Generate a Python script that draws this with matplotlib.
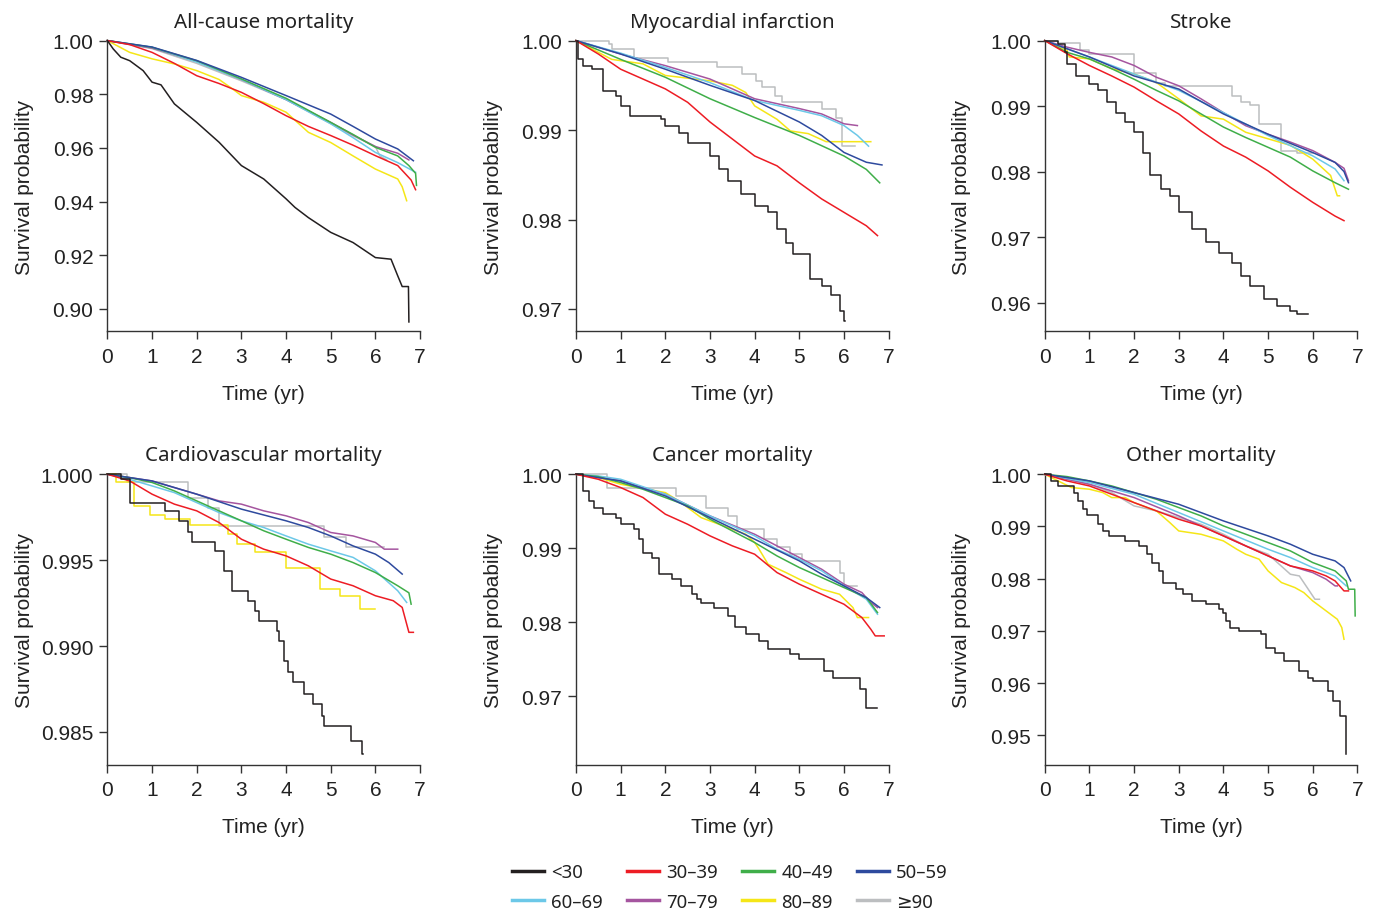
import matplotlib
matplotlib.use("Agg")
import matplotlib.pyplot as plt
from matplotlib.lines import Line2D
from matplotlib.ticker import FormatStrFormatter

plt.rcParams['font.family'] = ['Liberation Sans', 'DejaVu Sans']

# age groups and their colours
groups = ["<30", "30–39", "40–49", "50–59", "60–69", "70–79", "80–89", "≥90"]
colors = {"<30": "#231f20", "30–39": "#ed1c24", "40–49": "#3fae49", "50–59": "#2e4a9e",
          "60–69": "#6cc8e8", "70–79": "#a5559f", "80–89": "#f5e617", "≥90": "#bcbec0"}

# survival curves: label -> (time in years, survival)
allcause = {
    "<30": ([0, 0.13, 0.3, 0.5, 0.8, 1, 1.2, 1.5, 2, 2.5, 3, 3.5, 4, 4.2, 4.5, 5, 5.5, 6, 6.35, 6.5, 6.6, 6.74, 6.75],
            [1, 0.9969, 0.9938, 0.9925, 0.9888, 0.9845, 0.9835, 0.9764, 0.9695, 0.9621, 0.9534, 0.9484, 0.941, 0.9378,
             0.934, 0.9285, 0.9247, 0.9191, 0.9185, 0.9123, 0.9083, 0.9083, 0.8951]),
    "30–39": ([0, 0.5, 1, 1.5, 2, 2.5, 3, 3.5, 4, 4.5, 5, 5.5, 6, 6.5, 6.8, 6.9],
              [1, 0.9985, 0.9956, 0.9915, 0.9869, 0.984, 0.9807, 0.9765, 0.972, 0.968, 0.9646, 0.961, 0.9571, 0.9534,
               0.948, 0.9444]),
    "40–49": ([0, 1, 2, 3, 4, 5, 5.5, 6, 6.5, 6.75, 6.9, 6.92],
              [1, 0.9975, 0.9925, 0.9857, 0.9785, 0.9695, 0.965, 0.9602, 0.957, 0.9534, 0.9505, 0.946]),
    "50–59": ([0, 1, 2, 3, 4, 5, 5.5, 6, 6.5, 6.85],
              [1, 0.9976, 0.9926, 0.9863, 0.9795, 0.9726, 0.968, 0.9633, 0.9596, 0.9552]),
    "60–69": ([0, 1, 2, 3, 4, 5, 5.5, 6, 6.5, 6.9],
              [1, 0.9975, 0.992, 0.9855, 0.978, 0.969, 0.9638, 0.9583, 0.9545, 0.9509]),
    "70–79": ([0, 1, 2, 3, 4, 5, 5.5, 6, 6.5, 6.75],
              [1, 0.9972, 0.9922, 0.9855, 0.978, 0.9695, 0.9648, 0.9605, 0.958, 0.9555]),
    "80–89": ([0, 0.5, 1, 1.5, 2, 2.5, 2.8, 3, 3.5, 4, 4.5, 5, 5.5, 6, 6.5, 6.6, 6.7],
              [1, 0.9956, 0.9932, 0.9913, 0.9888, 0.9855, 0.982, 0.9795, 0.977, 0.9733, 0.9658, 0.962, 0.957, 0.9521,
               0.9484, 0.9455, 0.9403]),
    "≥90": ([0, 1, 2, 3, 4, 5, 5.5, 6, 6.1, 6.25],
            [1, 0.997, 0.9915, 0.985, 0.978, 0.969, 0.9645, 0.9605, 0.957, 0.9555]),
}

infarction = {
    "<30": ([0, 0.05, 0.15, 0.35, 0.6, 0.9, 1.0, 1.2, 1.9, 2.0, 2.3, 2.5, 3.0, 3.2, 3.4, 3.7, 4.0, 4.3, 4.5, 4.7,
             4.85, 5.25, 5.5, 5.7, 5.9, 6.0, 6.02],
            [1, 0.9979, 0.9972, 0.9968, 0.9944, 0.9938, 0.9927, 0.9916, 0.9912, 0.9905, 0.9897, 0.9886, 0.9871,
             0.9856, 0.9843, 0.9828, 0.9815, 0.9808, 0.9789, 0.9774, 0.9761, 0.9733, 0.9726, 0.9716, 0.9698, 0.9687,
             0.9687]),
    "30–39": ([0, 0.5, 1, 1.5, 2, 2.5, 3, 3.5, 4, 4.5, 5, 5.5, 6, 6.5, 6.75],
              [1, 0.9985, 0.9968, 0.9957, 0.9946, 0.9931, 0.9909, 0.989, 0.9871, 0.986, 0.9841, 0.9823, 0.9808,
               0.9793, 0.9782]),
    "40–49": ([0, 1, 2, 3, 4, 5, 6, 6.5, 6.8],
              [1, 0.9979, 0.9959, 0.9935, 0.9914, 0.9894, 0.9871, 0.9856, 0.9841]),
    "50–59": ([0, 1, 2, 3, 4, 5, 5.5, 6, 6.5, 6.85],
              [1, 0.9985, 0.9968, 0.995, 0.9933, 0.9909, 0.9894, 0.9875, 0.9864, 0.9861]),
    "60–69": ([0, 1, 2, 3, 4, 5, 5.5, 6, 6.3, 6.55],
              [1, 0.9986, 0.997, 0.9953, 0.9933, 0.9922, 0.9916, 0.9905, 0.9894, 0.9882]),
    "70–79": ([0, 1, 2, 3, 4, 5, 5.5, 6, 6.3],
              [1, 0.9985, 0.9972, 0.9957, 0.9935, 0.9924, 0.9918, 0.9907, 0.9905]),
    "80–89": ([0, 0.8, 1.5, 2, 3, 3.5, 3.8, 4, 4.5, 4.8, 5.2, 5.6, 6.6],
              [1, 0.9979, 0.9974, 0.9961, 0.9955, 0.995, 0.9942, 0.9927, 0.9912, 0.9899, 0.9896, 0.9887, 0.9887]),
    "≥90": ([0, 0.75, 0.8, 1.3, 2.05, 3.15, 3.72, 4.02, 4.17, 4.46, 4.61, 5.51, 5.81, 5.96, 6.25],
            [1, 0.9996, 0.9991, 0.9981, 0.9976, 0.997, 0.9963, 0.9955, 0.9948, 0.9938, 0.9931, 0.9924, 0.9914,
             0.9882, 0.9882]),
}

stroke = {
    "<30": ([0, 0.3, 0.45, 0.5, 0.7, 1.0, 1.2, 1.4, 1.6, 1.8, 2.0, 2.2, 2.35, 2.6, 2.8, 3.0, 3.3, 3.6, 3.9, 4.2,
             4.4, 4.6, 4.9, 5.2, 5.5, 5.65, 5.9],
            [1, 0.9995, 0.9982, 0.9964, 0.9946, 0.9934, 0.9924, 0.9906, 0.989, 0.9875, 0.986, 0.9829, 0.9794,
             0.9773, 0.9763, 0.9738, 0.9712, 0.9692, 0.9676, 0.9661, 0.9641, 0.9625, 0.9605, 0.9595, 0.9587, 0.9582,
             0.9582]),
    "30–39": ([0, 0.5, 1, 1.5, 2, 2.5, 3, 3.5, 4, 4.5, 5, 5.5, 6, 6.5, 6.7],
              [1, 0.998, 0.9962, 0.9946, 0.9929, 0.9908, 0.9888, 0.9862, 0.9839, 0.9822, 0.9801, 0.9776, 0.9753,
               0.9732, 0.9725]),
    "40–49": ([0, 0.5, 1, 1.5, 2, 2.5, 3, 3.5, 4, 4.5, 5, 5.5, 6, 6.5, 6.8],
              [1, 0.9982, 0.9972, 0.9957, 0.9941, 0.9924, 0.9908, 0.9888, 0.9868, 0.9852, 0.9837, 0.9822, 0.9801,
               0.9783, 0.9773]),
    "50–59": ([0, 1, 2, 3, 4, 5, 6, 6.5, 6.7, 6.8],
              [1, 0.9975, 0.9946, 0.9926, 0.9888, 0.9857, 0.9829, 0.9814, 0.98, 0.9783]),
    "60–69": ([0, 1, 2, 3, 4, 5, 6, 6.5, 6.7],
              [1, 0.9975, 0.9949, 0.9924, 0.989, 0.9855, 0.9824, 0.9804, 0.9786]),
    "70–79": ([0, 0.5, 1, 1.5, 2, 2.5, 3, 3.5, 4, 4.5, 5, 5.5, 6, 6.5, 6.7, 6.8],
              [1, 0.999, 0.9982, 0.9975, 0.9962, 0.9944, 0.9931, 0.9911, 0.989, 0.987, 0.9857, 0.9845, 0.9832,
               0.9814, 0.9805, 0.9786]),
    "80–89": ([0, 0.5, 0.55, 1, 1.5, 2, 2.5, 3, 3.5, 4, 4.5, 5, 5.5, 6, 6.4, 6.55, 6.6],
              [1, 0.9985, 0.9975, 0.9972, 0.9957, 0.9949, 0.9936, 0.9911, 0.9885, 0.988, 0.986, 0.985, 0.984,
               0.9819, 0.9794, 0.9763, 0.9763]),
    "≥90": ([0, 0.3, 0.8, 1.0, 2.0, 2.5, 2.7, 4.2, 4.4, 4.6, 4.8, 5.3, 5.65, 6.0],
            [1, 0.9996, 0.9985, 0.998, 0.995, 0.9935, 0.9931, 0.9916, 0.9906, 0.9901, 0.9873, 0.9832, 0.9829,
             0.9829]),
}

cardio = {
    "<30": ([0, 0.3, 0.5, 1.3, 1.6, 1.8, 1.9, 2.4, 2.6, 2.8, 3.15, 3.3, 3.4, 3.8, 3.85, 3.95, 4.05, 4.15, 4.4, 4.6,
             4.8, 4.85, 5.45, 5.7, 5.72],
            [1, 0.9997, 0.99835, 0.99787, 0.99729, 0.99661, 0.99607, 0.99554, 0.99438, 0.99322, 0.99264, 0.99205,
             0.99147, 0.99089, 0.99031, 0.98915, 0.98847, 0.98789, 0.98721, 0.98663, 0.98595, 0.98533, 0.9845,
             0.98372, 0.98372]),
    "30–39": ([0, 0.5, 1, 1.5, 2, 2.5, 3, 3.5, 4, 4.5, 5, 5.5, 6, 6.4, 6.6, 6.75, 6.85],
              [1, 0.99961, 0.99884, 0.99826, 0.99787, 0.99719, 0.99622, 0.99564, 0.99525, 0.99467, 0.9939, 0.99351,
               0.99293, 0.99264, 0.99225, 0.9908, 0.9908]),
    "40–49": ([0, 0.5, 1, 1.5, 2, 2.5, 3, 3.5, 4, 4.5, 5, 5.5, 6, 6.5, 6.75, 6.8],
              [1, 0.9998, 0.99952, 0.99903, 0.99845, 0.99787, 0.99729, 0.99671, 0.99622, 0.99574, 0.99535, 0.99486,
               0.99428, 0.99351, 0.9931, 0.99244]),
    "50–59": ([0, 1, 2, 3, 4, 4.5, 5, 5.5, 6, 6.3, 6.6],
              [1, 0.99961, 0.99884, 0.99797, 0.99729, 0.9969, 0.99641, 0.99583, 0.99535, 0.99486, 0.99419]),
    "60–69": ([0, 0.5, 1, 1.5, 2, 2.5, 3, 3.5, 4, 4.5, 5, 5.5, 6, 6.5, 6.7],
              [1, 0.9997, 0.99932, 0.99893, 0.99835, 0.99777, 0.99729, 0.9969, 0.99641, 0.99593, 0.99554, 0.99516,
               0.99438, 0.99322, 0.99254]),
    "70–79": ([0, 1, 2, 2.5, 3, 3.5, 4, 4.5, 5, 5.5, 6, 6.2, 6.5],
              [1, 0.99961, 0.99884, 0.99845, 0.99826, 0.99787, 0.99758, 0.99719, 0.99661, 0.99641, 0.99603, 0.99564,
               0.99564]),
    "80–89": ([0, 0.2, 0.6, 0.95, 1.3, 1.85, 2.7, 2.9, 3.3, 4.0, 4.75, 5.2, 5.65, 6.0],
              [1, 0.99952, 0.99816, 0.99762, 0.99738, 0.99703, 0.99651, 0.99593, 0.99545, 0.99457, 0.99331, 0.99293,
               0.99215, 0.99215]),
    "≥90": ([0, 0.45, 1.8, 2.25, 2.5, 4.85, 5.35, 6.2],
            [1, 0.99952, 0.99864, 0.99806, 0.99696, 0.99632, 0.99574, 0.99574]),
}

cancer = {
    "<30": ([0, 0.15, 0.3, 0.4, 0.6, 0.9, 1.0, 1.3, 1.4, 1.5, 1.7, 1.85, 2.15, 2.35, 2.6, 2.7, 2.8, 3.1, 3.4, 3.55,
             3.8, 4.1, 4.3, 4.8, 5.0, 5.55, 5.75, 6.35, 6.5, 6.75],
            [1, 0.99775, 0.9964, 0.9955, 0.9946, 0.99414, 0.99324, 0.99257, 0.99122, 0.98941, 0.98874, 0.98649,
             0.98581, 0.98491, 0.98378, 0.98311, 0.98266, 0.98198, 0.98086, 0.97941, 0.97838, 0.97748, 0.97635,
             0.97568, 0.975, 0.97342, 0.97252, 0.97095, 0.96847, 0.96847]),
    "30–39": ([0, 0.5, 1, 1.5, 2, 2.5, 3, 3.5, 4, 4.5, 5, 5.5, 6, 6.4, 6.6, 6.7, 6.9],
              [1, 0.99932, 0.9982, 0.99685, 0.9946, 0.99324, 0.99167, 0.99032, 0.98919, 0.98671, 0.98514, 0.98378,
               0.98243, 0.98063, 0.97905, 0.97815, 0.97815]),
    "40–49": ([0, 0.5, 1, 1.5, 2, 2.5, 3, 3.5, 4, 4.5, 5, 5.5, 6, 6.5, 6.75],
              [1, 0.99968, 0.99887, 0.99797, 0.99685, 0.99572, 0.99392, 0.99234, 0.99077, 0.98896, 0.98739, 0.98604,
               0.98468, 0.98333, 0.98131]),
    "50–59": ([0, 1, 2, 3, 4, 5, 5.5, 6, 6.5, 6.8],
              [1, 0.9991, 0.99707, 0.99414, 0.99122, 0.98829, 0.98649, 0.98491, 0.98333, 0.98198]),
    "60–69": ([0, 0.5, 1, 2, 3, 4, 4.5, 5, 5.5, 6, 6.5, 6.75],
              [1, 0.99977, 0.99932, 0.9973, 0.99437, 0.99167, 0.98986, 0.98851, 0.98694, 0.98491, 0.98311, 0.98108]),
    "70–79": ([0, 1, 2, 3, 4, 5, 5.5, 6, 6.4, 6.6, 6.75],
              [1, 0.9991, 0.9973, 0.99437, 0.99189, 0.98874, 0.98716, 0.98514, 0.98401, 0.98266, 0.98198]),
    "80–89": ([0, 0.5, 1, 2, 2.3, 2.6, 2.8, 3.3, 3.8, 4.0, 4.1, 4.3, 4.7, 5.0, 5.5, 5.9, 6.2, 6.3, 6.55],
              [1, 0.99955, 0.99865, 0.99752, 0.9964, 0.99505, 0.99414, 0.99302, 0.99189, 0.99077, 0.98986, 0.98784,
               0.98671, 0.98581, 0.98446, 0.98378, 0.98198, 0.98063, 0.98063]),
    "≥90": ([0, 0.7, 2.25, 2.9, 3.4, 3.6, 4.2, 4.5, 4.8, 5.05, 5.9, 6.0, 6.3],
            [1, 0.9982, 0.99707, 0.9955, 0.99437, 0.99257, 0.99122, 0.9901, 0.98919, 0.98829, 0.98671, 0.98491,
             0.98491]),
}

other = {
    "<30": ([0, 0.15, 0.3, 0.65, 0.75, 0.85, 0.95, 1.2, 1.3, 1.45, 1.8, 2.1, 2.3, 2.4, 2.55, 2.65, 2.95, 3.1, 3.3,
             3.6, 3.9, 4.0, 4.05, 4.15, 4.35, 4.85, 4.95, 5.15, 5.35, 5.7, 5.9, 6.0, 6.35, 6.45, 6.6, 6.75],
            [1, 0.99872, 0.99776, 0.99649, 0.99489, 0.9933, 0.99215, 0.99042, 0.98914, 0.98819, 0.98723, 0.98627,
             0.98467, 0.98308, 0.98148, 0.97925, 0.97797, 0.97701, 0.97573, 0.9751, 0.97414, 0.9735, 0.9719,
             0.97063, 0.96999, 0.96935, 0.9668, 0.96584, 0.96424, 0.96232, 0.96105, 0.96041, 0.95849, 0.95658,
             0.9537, 0.94636]),
    "30–39": ([0, 0.5, 1, 1.5, 2, 2.5, 3, 3.5, 4, 4.5, 5, 5.5, 6, 6.3, 6.5, 6.7, 6.8],
              [1, 0.99872, 0.99776, 0.99617, 0.99457, 0.99298, 0.99138, 0.9901, 0.98819, 0.98627, 0.98436, 0.98244,
               0.98148, 0.98052, 0.97957, 0.97765, 0.97765]),
    "40–49": ([0, 0.5, 1, 1.5, 2, 2.5, 3, 3.5, 4, 4.5, 5, 5.5, 6, 6.5, 6.75, 6.8, 6.94, 6.95],
              [1, 0.99955, 0.99872, 0.99776, 0.99649, 0.99521, 0.99361, 0.99202, 0.9901, 0.98851, 0.98691, 0.98531,
               0.98308, 0.98148, 0.97957, 0.97797, 0.97797, 0.97286]),
    "50–59": ([0, 1, 2, 3, 4, 5, 5.5, 6, 6.5, 6.7, 6.85],
              [1, 0.99872, 0.99649, 0.99425, 0.99106, 0.98819, 0.98659, 0.98467, 0.9834, 0.98212, 0.97957]),
    "60–69": ([0, 1, 2, 3, 4, 5, 5.5, 6, 6.5, 6.75],
              [1, 0.9984, 0.99617, 0.99266, 0.98914, 0.98563, 0.98404, 0.98212, 0.98052, 0.97861]),
    "70–79": ([0, 0.5, 1, 2, 3, 4, 4.5, 5, 5.5, 6, 6.3, 6.5, 6.55],
              [1, 0.99904, 0.99808, 0.99553, 0.99202, 0.98819, 0.98627, 0.98436, 0.98244, 0.98116, 0.97989, 0.97861,
               0.97861]),
    "80–89": ([0, 0.3, 0.6, 1, 1.3, 1.5, 1.8, 2.0, 2.5, 2.8, 3.0, 3.5, 4.0, 4.3, 4.5, 4.8, 5.0, 5.3, 5.6, 5.8, 6.0,
               6.15, 6.55, 6.65, 6.7],
              [1, 0.99872, 0.99745, 0.99713, 0.99649, 0.99553, 0.99553, 0.99457, 0.99298, 0.99074, 0.98914, 0.9885,
               0.98723, 0.98563, 0.98467, 0.98372, 0.98148, 0.97925, 0.97829, 0.97733, 0.97573, 0.97478, 0.97222,
               0.97063, 0.96839]),
    "≥90": ([0, 1, 1.5, 2, 2.5, 3, 3.5, 4, 4.5, 5, 5.25, 5.5, 5.7, 5.95, 6.05, 6.15],
            [1, 0.99808, 0.99649, 0.99393, 0.99298, 0.9917, 0.99042, 0.98851, 0.98627, 0.98468, 0.98276, 0.98084,
             0.98052, 0.97733, 0.97605, 0.97605]),
}

# panel setup: title, data, y range, y ticks, tick format, curves drawn as steps
panels = [
    ("All-cause mortality", allcause, (0.8916, 1.0), [0.90, 0.92, 0.94, 0.96, 0.98, 1.00], "%.2f", []),
    ("Myocardial infarction", infarction, (0.9675, 1.0), [0.97, 0.98, 0.99, 1.00], "%.2f", ["<30", "≥90"]),
    ("Stroke", stroke, (0.9556, 1.0), [0.96, 0.97, 0.98, 0.99, 1.00], "%.2f", ["<30", "≥90"]),
    ("Cardiovascular mortality", cardio, (0.98308, 1.0), [0.985, 0.990, 0.995, 1.000], "%.3f",
     ["<30", "80–89", "≥90"]),
    ("Cancer mortality", cancer, (0.9607, 1.0), [0.97, 0.98, 0.99, 1.00], "%.2f", ["<30", "≥90"]),
    ("Other mortality", other, (0.9443, 1.0), [0.95, 0.96, 0.97, 0.98, 0.99, 1.00], "%.2f", ["<30"]),
]

fig = plt.figure(figsize=(13.75, 9.12), dpi=100)
lefts = [0.0781, 0.4189, 0.7598]
bottoms = [0.6356, 0.1601]
axw, axh = 0.2274, 0.3188

ink = "#222222"
for i, (title, curves, ylim, yticks, fmt, stepped) in enumerate(panels):
    ax = fig.add_axes([lefts[i % 3], bottoms[i // 3], axw, axh])
    draw_order = ["≥90", "80–89", "70–79", "60–69", "40–49", "50–59", "30–39", "<30"]
    for g in draw_order:
        t, s = curves[g]
        ds = "steps-post" if g in stepped else "default"
        ax.plot(t, s, color=colors[g], lw=1.1, drawstyle=ds, clip_on=False, zorder=3)
    ax.set_xlim(0, 7)
    ax.set_ylim(*ylim)
    ax.set_xticks(range(8))
    ax.set_yticks(yticks)
    ax.yaxis.set_major_formatter(FormatStrFormatter(fmt))
    for side in ("top", "right"):
        ax.spines[side].set_visible(False)
    for side in ("left", "bottom"):
        ax.spines[side].set_color("#333333")
        ax.spines[side].set_linewidth(1.0)
    ax.tick_params(direction="out", length=6, width=1.0, color="#333333", labelsize=15, labelcolor=ink)
    ax.tick_params(axis="x", pad=5)
    ax.tick_params(axis="y", pad=4)
    ax.set_title(title, fontsize=14.8, family=["Noto Sans", "DejaVu Sans"], color=ink, pad=10)
    ax.set_xlabel("Time (yr)", fontsize=15, color=ink, labelpad=13)
    ax.set_ylabel("Survival probability", fontsize=15, color=ink)
    ax.yaxis.set_label_coords(-0.235, 0.5)

# legend in two rows of four
order = ["<30", "60–69", "30–39", "70–79", "40–49", "80–89", "50–59", "≥90"]
handles = [Line2D([], [], color=colors[g], lw=2.5) for g in order]
fig.legend(handles, order, loc="center", bbox_to_anchor=(0.531, 0.0262), ncol=4, frameon=False,
           prop={"family": ["Noto Sans", "DejaVu Sans"], "size": 13.4}, handlelength=1.7, handletextpad=0.4,
           columnspacing=1.3, labelspacing=0.62, borderpad=0, borderaxespad=0, labelcolor=ink)

fig.savefig("out.png", dpi=100)
